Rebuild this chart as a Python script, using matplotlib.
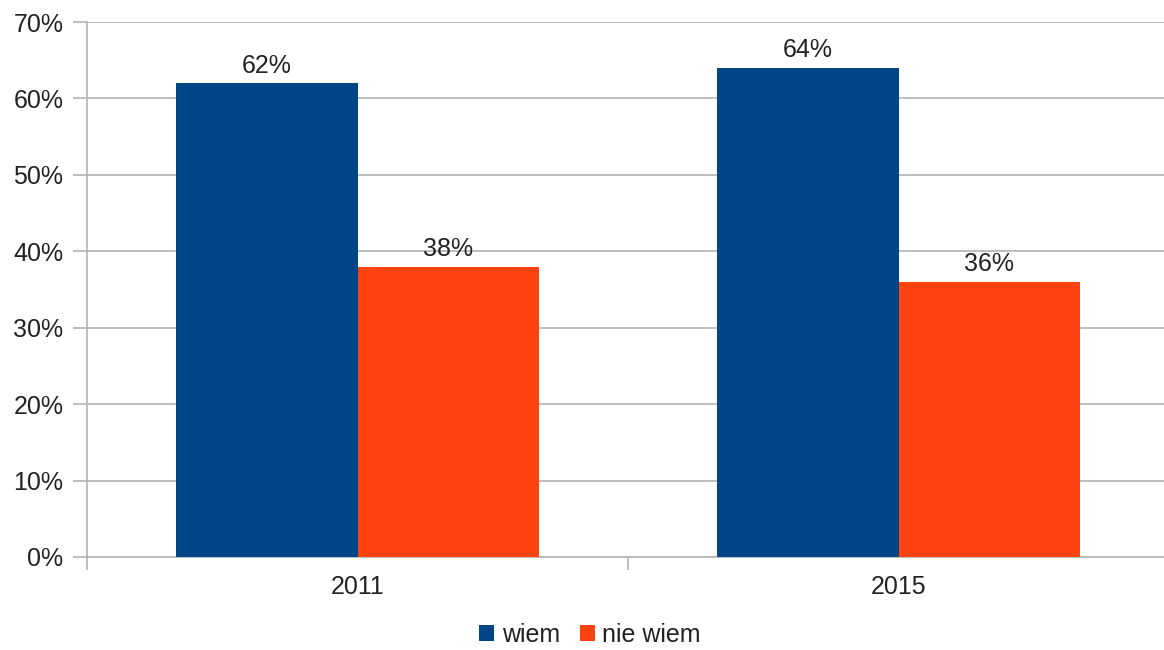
import matplotlib
matplotlib.use("Agg")
import matplotlib.pyplot as plt
import numpy as np

# chart data
years = ["2011", "2015"]
wiem = [62, 64]
nie_wiem = [38, 36]
series_names = ["wiem", "nie wiem"]

BLUE = "#004586"
ORANGE = "#ff420e"
GRID = "#b3b3b3"
TEXT = "#222222"
FS = 18

plt.rcParams["font.family"] = ["Liberation Sans", "DejaVu Sans"]

fig = plt.figure(figsize=(11.64, 6.5), dpi=100)
ax = fig.add_axes([87 / 1164, 1 - 557 / 650, 1082 / 1164, 535 / 650])

x = np.arange(len(years))
w = 0.335
b1 = ax.bar(x - w / 2, wiem, w, color=BLUE, label=series_names[0], zorder=3)
b2 = ax.bar(x + w / 2, nie_wiem, w, color=ORANGE, label=series_names[1], zorder=3)

for bars, vals in ((b1, wiem), (b2, nie_wiem)):
    for rect, v in zip(bars, vals):
        ax.annotate(f"{v}%", (rect.get_x() + rect.get_width() / 2, v),
                    xytext=(0, 4), textcoords="offset points",
                    ha="center", va="bottom", fontsize=FS, color=TEXT)

ax.set_xlim(-0.5, len(years) - 0.5)
ax.set_ylim(0, 70)
ax.set_yticks(range(0, 71, 10))
ax.set_yticklabels([f"{v}%" for v in range(0, 71, 10)])
ax.set_xticks(x)
ax.set_xticklabels(years)
ax.set_xticks(np.arange(-0.5, len(years), 1), minor=True)

ax.yaxis.grid(True, color=GRID, linewidth=1.2, zorder=0)
ax.tick_params(axis="y", length=10, color=GRID, width=1.2, labelsize=FS,
               labelcolor=TEXT, pad=7)
ax.tick_params(axis="x", which="major", length=0, labelsize=FS,
               labelcolor=TEXT, pad=13)
ax.tick_params(axis="x", which="minor", length=9.5, color=GRID, width=1.2)

for side in ("top", "right"):
    ax.spines[side].set_visible(False)
for side in ("left", "bottom"):
    ax.spines[side].set_color(GRID)
    ax.spines[side].set_linewidth(1.2)

fig.legend(loc="center", bbox_to_anchor=(0.507, 1 - 635 / 650), ncol=2, frameon=False,
           fontsize=FS, handlelength=0.6, handleheight=0.6, handletextpad=0.3,
           columnspacing=0.8, labelcolor=TEXT)

fig.savefig("out.png", dpi=100)
